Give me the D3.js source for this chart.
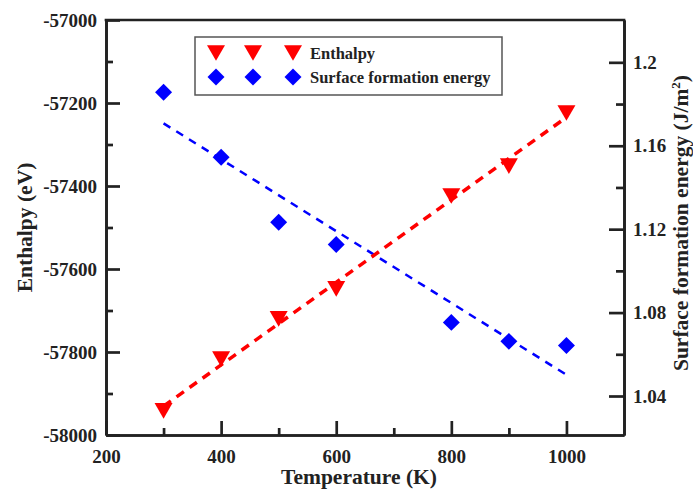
<!DOCTYPE html>
<html>
<head>
<meta charset="utf-8">
<script src="https://cdn.jsdelivr.net/npm/d3@7"></script>
<style>
  body { margin: 0; background: #fff; }
  svg text { font-family: "Liberation Serif", "Times New Roman", serif !important; font-weight: bold; fill: #222; }
</style>
</head>
<body>
<svg id="chart" width="693" height="489"></svg>
<script>
// values
const temperature = [300, 400, 500, 600, 800, 900, 1000];
const enthalpy = [-57942, -57817, -57720, -57648, -57424, -57352, -57224];
const surfaceEnergy = [1.1857, 1.1545, 1.1233, 1.1126, 1.0753, 1.0662, 1.0642];

const xTicks = [200, 400, 600, 800, 1000];
const xMinor = [300, 500, 700, 900];
const yLeftTicks = [-58000, -57800, -57600, -57400, -57200, -57000];
const yLeftMinor = [-57900, -57700, -57500, -57300, -57100];
const yRightTicks = [1.04, 1.08, 1.12, 1.16, 1.2];
const yRightMinor = [1.06, 1.10, 1.14, 1.18];
const legendLabels = ["Enthalpy", "Surface formation energy"];

const margin = { top: 20, right: 69, bottom: 54, left: 106 };
const W = 693, H = 489;
const width = W - margin.left - margin.right;
const height = H - margin.top - margin.bottom;
const axisColor = "#222";
const red = "#ff0000", blue = "#0000ff";
const serif = "'Liberation Serif', 'Times New Roman', serif";

const svg = d3.select("#chart");
const g = svg.append("g").attr("transform", `translate(${margin.left},${margin.top})`);

const x = d3.scaleLinear().domain([200, 1100]).range([0, width]);
const yL = d3.scaleLinear().domain([-58000, -57000]).range([height, 0]);
const yR = d3.scaleLinear().domain([1.0213, 1.2203]).range([height, 0]);

// least squares fit used for the dashed lines
function fit(xs, ys) {
    const mx = d3.mean(xs), my = d3.mean(ys);
    let sxy = 0, sxx = 0;
    xs.forEach((v, i) => { sxy += (v - mx) * (ys[i] - my); sxx += (v - mx) * (v - mx); });
    const b = sxy / sxx;
    return t => my + b * (t - mx);
}
const fitH = fit(temperature, enthalpy);
const fitS = fit(temperature, surfaceEnergy);
const xEnds = d3.extent(temperature);

// marker shapes
const downTriangle = {
    draw(ctx, size) {
        const w = Math.sqrt(size), h = w * 0.87;
        ctx.moveTo(-w / 2, -h / 2);
        ctx.lineTo(w / 2, -h / 2);
        ctx.lineTo(0, h / 2);
        ctx.closePath();
    }
};
const triPath = d3.symbol().type(downTriangle).size(18 * 18)();
const diaPath = d3.symbol().type(d3.symbolSquare).size(144)();

// axes: minor ticks then major ticks (inward)
function styleAxis(sel) {
    sel.attr("font-family", null).attr("font-size", null);
    sel.select(".domain").attr("stroke", axisColor).attr("stroke-width", 2.7);
    sel.selectAll(".tick line").attr("stroke", axisColor).attr("stroke-width", 2.7);
    sel.selectAll("text")
        .style("font-family", serif).style("font-weight", "bold").style("font-size", "19px")
        .attr("fill", axisColor);
}

g.append("g").attr("transform", `translate(0,${height})`)
    .call(d3.axisBottom(x).tickValues(xMinor).tickSize(-7).tickSizeOuter(0).tickFormat(""))
    .call(styleAxis);
g.append("g").attr("transform", `translate(0,${height})`)
    .call(d3.axisBottom(x).tickValues(xTicks).tickSize(-14).tickSizeOuter(0).tickPadding(15).tickFormat(d => String(d)))
    .call(styleAxis);

g.append("g")
    .call(d3.axisLeft(yL).tickValues(yLeftMinor).tickSize(-7).tickSizeOuter(0).tickFormat(""))
    .call(styleAxis);
g.append("g")
    .call(d3.axisLeft(yL).tickValues(yLeftTicks).tickSize(-14).tickSizeOuter(0).tickPadding(9).tickFormat(d => String(d)))
    .call(styleAxis);

g.append("g").attr("transform", `translate(${width},0)`)
    .call(d3.axisRight(yR).tickValues(yRightMinor).tickSize(-8).tickSizeOuter(0).tickFormat(""))
    .call(styleAxis);
g.append("g").attr("transform", `translate(${width},0)`)
    .call(d3.axisRight(yR).tickValues(yRightTicks).tickSize(-15).tickSizeOuter(0).tickPadding(9).tickFormat(d => String(+d.toFixed(2))))
    .call(styleAxis);

// top frame line
g.append("line").attr("x1", 0).attr("x2", width).attr("y1", 0).attr("y2", 0)
    .attr("stroke", axisColor).attr("stroke-width", 2.7).attr("stroke-linecap", "square");

// fitted dashed lines
g.append("line")
    .attr("x1", x(xEnds[0])).attr("y1", yR(fitS(xEnds[0])))
    .attr("x2", x(xEnds[1])).attr("y2", yR(fitS(xEnds[1])))
    .attr("stroke", blue).attr("stroke-width", 2.5).attr("stroke-dasharray", "8,7");
g.append("line")
    .attr("x1", x(xEnds[0])).attr("y1", yL(fitH(xEnds[0])))
    .attr("x2", x(xEnds[1])).attr("y2", yL(fitH(xEnds[1])))
    .attr("stroke", red).attr("stroke-width", 3.5).attr("stroke-dasharray", "9,7");

// points
g.append("g").selectAll("path")
    .data(temperature)
    .join("path")
    .attr("d", diaPath)
    .attr("transform", (d, i) => `translate(${x(d)},${yR(surfaceEnergy[i])}) rotate(45)`)
    .attr("fill", blue);
g.append("g").selectAll("path")
    .data(temperature)
    .join("path")
    .attr("d", triPath)
    .attr("transform", (d, i) => `translate(${x(d)},${yL(enthalpy[i])})`)
    .attr("fill", red);

// legend
const legend = svg.append("g").attr("transform", "translate(195,37)");
legend.append("rect").attr("width", 307).attr("height", 58)
    .attr("fill", "#fff").attr("stroke", "#555").attr("stroke-width", 1.5);
const rows = legend.selectAll(".row")
    .data(legendLabels)
    .join("g")
    .attr("class", "row")
    .attr("transform", (d, i) => `translate(0,${16 + i * 24})`);
rows.each(function (d, i) {
    const r = d3.select(this);
    [21, 58, 98].forEach(cx => {
        r.append("path")
            .attr("d", i === 0 ? triPath : diaPath)
            .attr("transform", `translate(${cx},0)` + (i === 0 ? "" : " rotate(45)"))
            .attr("fill", i === 0 ? red : blue);
    });
    r.append("text").attr("x", 115).attr("y", 6).style("font-size", "16.5px").text(d);
});

// axis titles
svg.append("text")
    .attr("x", 359).attr("y", 484)
    .attr("text-anchor", "middle").style("font-size", "21.5px")
    .text("Temperature (K)");
svg.append("text")
    .attr("transform", `translate(32,${margin.top + height / 2}) rotate(-90)`)
    .attr("text-anchor", "middle").style("font-size", "21.5px")
    .text("Enthalpy (eV)");
const rt = svg.append("text")
    .attr("transform", `translate(688,223) rotate(-90)`)
    .attr("text-anchor", "middle").style("font-size", "21.5px");
rt.append("tspan").text("Surface formation energy (J/m");
rt.append("tspan").style("font-size", "13px").attr("dy", -8).text("2");
rt.append("tspan").attr("dy", 8).text(")");
</script>
</body>
</html>
